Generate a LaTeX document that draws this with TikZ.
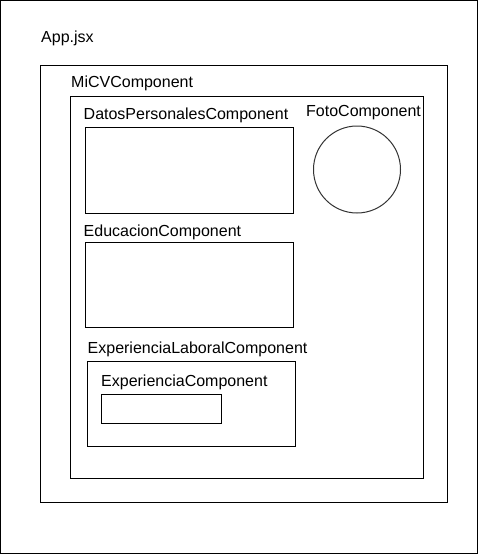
\documentclass[tikz,border=0pt]{standalone}
\usepackage{fontspec}
\setmainfont{Liberation Sans}
\begin{document}
\begin{tikzpicture}[x=1pt,y=-1pt,
  box/.style={draw=black,line width=1pt},
  lbl/.style={anchor=base west,inner sep=0pt,font=\fontsize{16}{19}\selectfont}]
\useasboundingbox (0,0) rectangle (479,555);
\draw[box] (0.5,0.5) rectangle (477.5,553.5);
\node[lbl] (app) at (41,42) {App.jsx};
\draw[box] (40,65) rectangle (447.5,502.5);
\node[lbl] (micv) at (71,87) {MiCVComponent};
\draw[box] (70.5,96) rectangle (423,478);
\node[lbl] (datosl) at (83.5,119) {DatosPersonalesComponent};
\draw[box] (85,127.5) rectangle (293,213);
\node[lbl] (fotol) at (306,116.5) {FotoComponent};
\node[draw=black!80,line width=1pt,circle,minimum size=87pt,inner sep=0pt] (foto) at (357,169.5) {};
\node[lbl] (edul) at (83.5,236.5) {EducacionComponent};
\draw[box] (85,242.5) rectangle (293,327.5);
\node[lbl] (expll) at (87.5,353.5) {ExperienciaLaboralComponent};
\draw[box] (87.5,361) rectangle (295.5,446.5);
\node[lbl] (expl) at (101,386) {ExperienciaComponent};
\draw[box] (101.5,394.5) rectangle (221.5,423.5);
\end{tikzpicture}
\end{document}
